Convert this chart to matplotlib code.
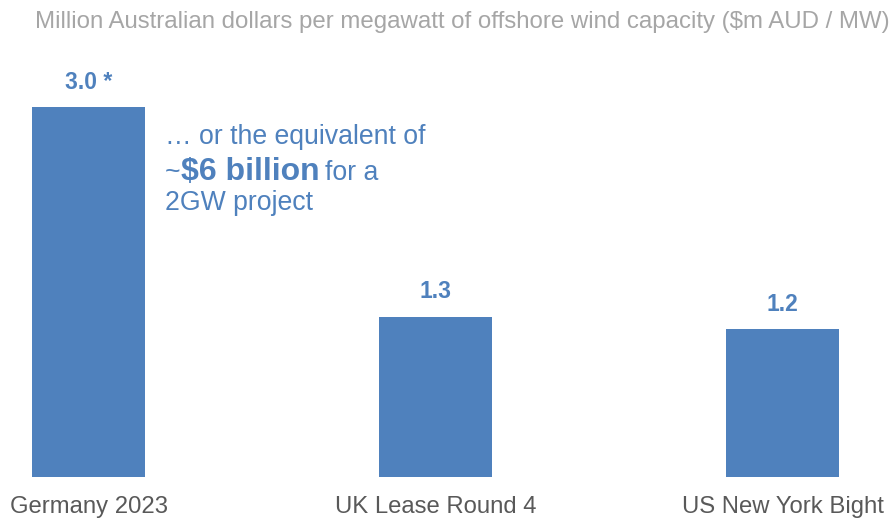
import matplotlib
matplotlib.use("Agg")
import matplotlib.pyplot as plt

plt.rcParams['font.family'] = ['Liberation Sans', 'DejaVu Sans']
plt.rcParams['text.parse_math'] = False

categories = ["Germany 2023", "UK Lease Round 4", "US New York Bight"]
values = [3.0, 1.3, 1.2]
value_labels = ["3.0 *", "1.3", "1.2"]
title = "Million Australian dollars per megawatt of offshore wind capacity ($m AUD / MW)"

BLUE = "#4f81bd"
GRAY_T = "#a6a6a6"
GRAY_L = "#595959"

W, H = 894, 520
fig = plt.figure(figsize=(W/100, H/100), dpi=100)
ax = fig.add_axes([0, 43/H, 1, (477-60)/H])
x = list(range(len(categories)))
ax.bar(x, values, width=113/347, color=BLUE)
ax.set_xlim(-88.5/347, (W-88.5)/347)
ax.set_ylim(0, 417/123.3)
ax.axis('off')

for xi, v, lab in zip(x, values, value_labels):
    ax.annotate(lab, (xi, v), xytext=(0, 18), textcoords='offset points',
                ha='center', va='center', fontsize=16.5, fontweight='bold', color=BLUE)
for xi, c in zip(x, categories):
    ax.annotate(c, (xi, 0), xytext=(0, -21.5), textcoords='offset points',
                ha='center', va='center', fontsize=17.2, color=GRAY_L)

fig.text(890/W, 1-22/H, title, ha='right', va='center', fontsize=17.3, color=GRAY_T)

# annotation
fig.text(165/W, 1-144/H, "… or the equivalent of", ha='left', va='baseline', fontsize=19.2, color=BLUE)
fig.text(165/W, 1-210/H, "2GW project", ha='left', va='baseline', fontsize=19.2, color=BLUE)
t1 = fig.text(165/W, 1-180/H, "~", ha='left', va='baseline', fontsize=19.2, color=BLUE)
fig.canvas.draw()
r = fig.canvas.get_renderer()
bb = t1.get_window_extent(r)
t2 = fig.text(bb.x1/W, 1-180/H, "$6 billion", ha='left', va='baseline', fontsize=23, fontweight='bold', color=BLUE)
bb2 = t2.get_window_extent(r)
fig.text(bb2.x1/W + 6/W, 1-180/H, "for a", ha='left', va='baseline', fontsize=19.2, color=BLUE)

fig.savefig("out.png", dpi=100)
